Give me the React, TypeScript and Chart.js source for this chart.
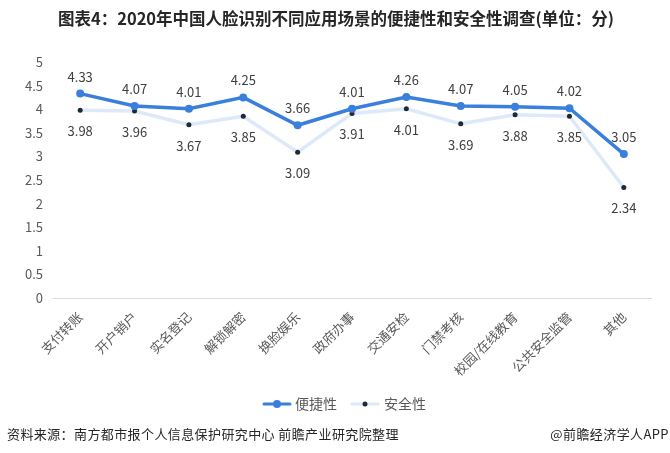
import React, { useEffect, useRef } from "react";
import { Chart, registerables } from "chart.js";

Chart.register(...registerables);

const categories = ["支付转账", "开户销户", "实名登记", "解锁解密", "换脸娱乐", "政府办事", "交通安检", "门禁考核", "校园/在线教育", "公共安全监管", "其他"];
const convenience = [4.33, 4.07, 4.01, 4.25, 3.66, 4.01, 4.26, 4.07, 4.05, 4.02, 3.05];
const security = [3.98, 3.96, 3.67, 3.85, 3.09, 3.91, 4.01, 3.69, 3.88, 3.85, 2.34];
const seriesNames = ["便捷性", "安全性"];
const titleText = "图表4：2020年中国人脸识别不同应用场景的便捷性和安全性调查(单位：分)";
const sourceText = "资料来源：南方都市报个人信息保护研究中心 前瞻产业研究院整理";
const brandText = "@前瞻经济学人APP";

const FONT = '"Noto Sans CJK SC", "Microsoft YaHei", sans-serif';
const BLUE = "#3a7fdb";
const LIGHT = "#dde9f9";
const DOT = "#1e2838";

const decorPlugin = {
  id: "decor",
  afterDatasetsDraw(chart: any) {
    const ctx = chart.ctx;
    ctx.save();
    // data labels
    ctx.font = `13px ${FONT}`;
    ctx.fillStyle = "#404040";
    ctx.textAlign = "center";
    ctx.textBaseline = "middle";
    const m0 = chart.getDatasetMeta(0);
    const m1 = chart.getDatasetMeta(1);
    m0.data.forEach((p: any, i: number) => {
      ctx.fillText(convenience[i].toFixed(2), p.x, p.y - 17);
    });
    m1.data.forEach((p: any, i: number) => {
      ctx.fillText(security[i].toFixed(2), p.x, p.y + 21);
    });
    // title
    ctx.font = `bold 16.5px ${FONT}`;
    ctx.fillStyle = "#262626";
    ctx.fillText(titleText, 336, 19);
    // legend
    const ly = 404;
    ctx.lineCap = "round";
    ctx.strokeStyle = BLUE;
    ctx.lineWidth = 3;
    ctx.beginPath();
    ctx.moveTo(264, ly);
    ctx.lineTo(290, ly);
    ctx.stroke();
    ctx.fillStyle = BLUE;
    ctx.beginPath();
    ctx.arc(277, ly, 4, 0, Math.PI * 2);
    ctx.fill();
    ctx.strokeStyle = LIGHT;
    ctx.beginPath();
    ctx.moveTo(352, ly);
    ctx.lineTo(378, ly);
    ctx.stroke();
    ctx.fillStyle = DOT;
    ctx.beginPath();
    ctx.arc(365, ly, 2.5, 0, Math.PI * 2);
    ctx.fill();
    ctx.font = `14px ${FONT}`;
    ctx.fillStyle = "#595959";
    ctx.textAlign = "left";
    ctx.fillText(seriesNames[0], 295, ly);
    ctx.fillText(seriesNames[1], 384, ly);
    // footer
    ctx.font = `13px ${FONT}`;
    (ctx as any).letterSpacing = "0.4px";
    ctx.fillStyle = "#262626";
    ctx.fillText(sourceText, 7, 434);
    ctx.textAlign = "right";
    ctx.fillText(brandText, 669, 434);
    ctx.restore();
  },
};

export default function App() {
  const ref = useRef<HTMLCanvasElement>(null);
  useEffect(() => {
    if (!ref.current) return;
    const chart = new Chart(ref.current, {
      type: "line",
      data: {
        labels: categories,
        datasets: [
          {
            label: seriesNames[0],
            data: convenience,
            borderColor: BLUE,
            backgroundColor: BLUE,
            borderWidth: 3.5,
            pointRadius: 4,
            pointBorderWidth: 0,
            pointBackgroundColor: BLUE,
            tension: 0,
          },
          {
            label: seriesNames[1],
            data: security,
            borderColor: LIGHT,
            backgroundColor: DOT,
            borderWidth: 3.5,
            pointRadius: 2.5,
            pointBorderWidth: 0,
            pointBackgroundColor: DOT,
            tension: 0,
          },
        ],
      },
      options: {
        animation: false,
        responsive: false,
        layout: { padding: { left: 8, right: 19, top: 62, bottom: 55 } },
        plugins: { legend: { display: false }, title: { display: false }, tooltip: { enabled: false } },
        scales: {
          x: {
            offset: true,
            grid: { display: false, drawTicks: false },
            border: { display: true, color: "#d9d9d9", width: 1 },
            ticks: {
              minRotation: 45,
              maxRotation: 45,
              autoSkip: false,
              padding: 11,
              color: "#595959",
              font: { size: 13, family: FONT },
            },
            afterFit: (s: any) => {
              s.height = 100;
            },
          },
          y: {
            min: 0,
            max: 5,
            grid: { display: false, drawTicks: false },
            border: { display: false },
            ticks: {
              stepSize: 0.5,
              padding: 10,
              color: "#595959",
              font: { size: 13, family: FONT },
              callback: (v: any) => String(v),
            },
            afterFit: (s: any) => {
              s.width = 45;
            },
          },
        },
      },
      plugins: [decorPlugin],
    });
    return () => chart.destroy();
  }, []);
  return (
    <div style={{ position: "fixed", left: 0, top: 0, width: 670, height: 453, background: "#fff" }}>
      <canvas ref={ref} width={670} height={453} style={{ display: "block" }} />
    </div>
  );
}
